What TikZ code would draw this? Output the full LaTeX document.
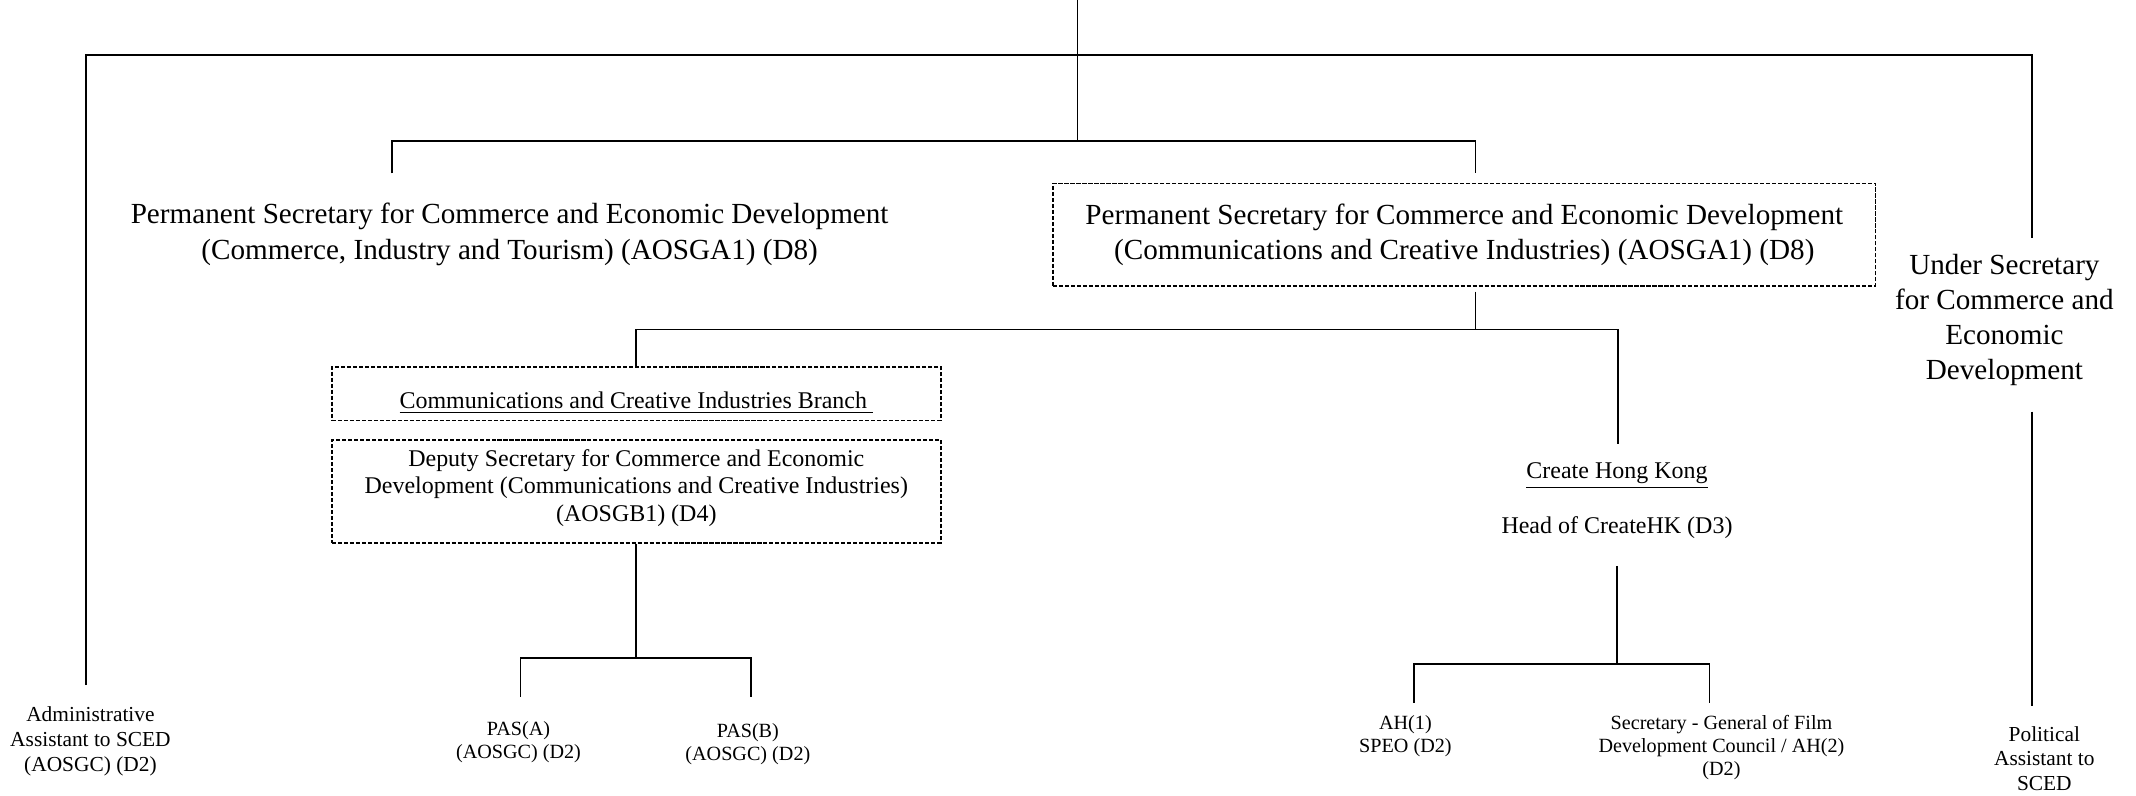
\documentclass[tikz,border=0pt]{standalone}
\usepackage{fontspec}
\setmainfont{Liberation Serif}

\begin{document}
\begin{tikzpicture}[
      x=0.5pt,y=-0.5pt,
      every node/.style={inner sep=0pt,align=center},
      conn/.style={line width=0.65pt},
      dashbox/.style={draw,line width=0.6pt,dash pattern=on 1.5pt off 0.7pt},
      bigtxt/.style={font=\fontsize{10.7}{12.9}\selectfont},
      midtxt/.style={font=\fontsize{8.8}{10.1}\selectfont},
      smalltxt/.style={font=\fontsize{7.4}{8.5}\selectfont},
      sidetxt/.style={font=\fontsize{7.85}{9.1}\selectfont}
    ]
  \useasboundingbox (0,0) rectangle (1568,584);

  % posts
  \node[bigtxt] (pscit) at (374.1,172) {Permanent Secretary for Commerce and Economic Development\\
    (Commerce, Industry and Tourism) (AOSGA1) (D8)};
  \node[dashbox,minimum width=301.9pt,minimum height=37.7pt] (pscci) at (1074.9,172.3) {};
  \node[bigtxt] (pscci-txt) at (pscci) {Permanent Secretary for Commerce and Economic Development\\
    (Communications and Creative Industries) (AOSGA1) (D8)};
  \node[bigtxt] (us) at (1471.4,235) {Under Secretary\\for Commerce and\\Economic\\Development};
  \node[dashbox,minimum width=223.5pt,minimum height=19.8pt] (cci) at (467.1,289) {};
  \node[midtxt] (cci-txt) at (467.1,296) {\underline{Communications and Creative Industries Branch\ }};
  \node[dashbox,minimum width=223.5pt,minimum height=37.7pt] (ds) at (467.1,360.7) {};
  \node[midtxt] (ds-txt) at (467.1,358) {Deputy Secretary for Commerce and Economic\\
    Development (Communications and Creative Industries)\\(AOSGB1) (D4)};
  \node[midtxt] (chk) at (1187,349) {\underline{Create Hong Kong}};
  \node[midtxt] (head) at (1187,387.5) {Head of CreateHK (D3)};
  \node[sidetxt] (aa) at (66.4,544.2) {Administrative\\Assistant to SCED\\(AOSGC) (D2)};
  \node[smalltxt] (pasa) at (380.6,544.5) {PAS(A)\\(AOSGC) (D2)};
  \node[smalltxt] (pasb) at (549,546.4) {PAS(B)\\(AOSGC) (D2)};
  \node[smalltxt] (ah1) at (1031.7,540.1) {AH(1)\\SPEO (D2)};
  \node[smalltxt] (sg) at (1263.7,548.7) {Secretary - General of Film\\
    Development Council / AH(2)\\(D2)};
  \node[sidetxt] (pa) at (1500.7,556.8) {Political\\Assistant to\\SCED};

  % line ends and joints
  \coordinate (top) at (791,0);
  \coordinate (j1) at (791,40.5);
  \coordinate (j2) at (791,103.5);
  \coordinate (aa-top) at (63.4,502.9);
  \coordinate (us-top) at (1491.6,175);
  \coordinate (us-bot) at (1491.6,302.2);
  \coordinate (pa-top) at (1491.6,518.3);
  \coordinate (pscit-top) at (287.9,127.2);
  \coordinate (pscci-top) at (1083.1,127.2);
  \coordinate (pscci-bot) at (1083.1,214.1);
  \coordinate (j3) at (1083.1,241.8);
  \coordinate (chk-top) at (1187.9,326.2);
  \coordinate (j4) at (467.1,482.8);
  \coordinate (pasa-top) at (382.1,511.4);
  \coordinate (pasb-top) at (551.1,511.4);
  \coordinate (head-bot) at (1187,415.3);
  \coordinate (j5) at (1187,487.7);
  \coordinate (ah1-top) at (1037.9,515.9);
  \coordinate (sg-top) at (1254.9,515.9);

  % connectors
  \draw[conn] (top) -- (j2);
  \draw[conn] (aa-top) |- (j1) -| (us-top);
  \draw[conn] (us-bot) -- (pa-top);
  \draw[conn] (pscit-top) |- (j2) -| (pscci-top);
  \draw[conn] (pscci-bot) -- (j3);
  \draw[conn] (cci.north) |- (j3) -| (chk-top);
  \draw[conn] (ds.south) -- (j4);
  \draw[conn] (pasa-top) |- (j4) -| (pasb-top);
  \draw[conn] (head-bot) -- (j5);
  \draw[conn] (ah1-top) |- (j5) -| (sg-top);
\end{tikzpicture}
\end{document}
